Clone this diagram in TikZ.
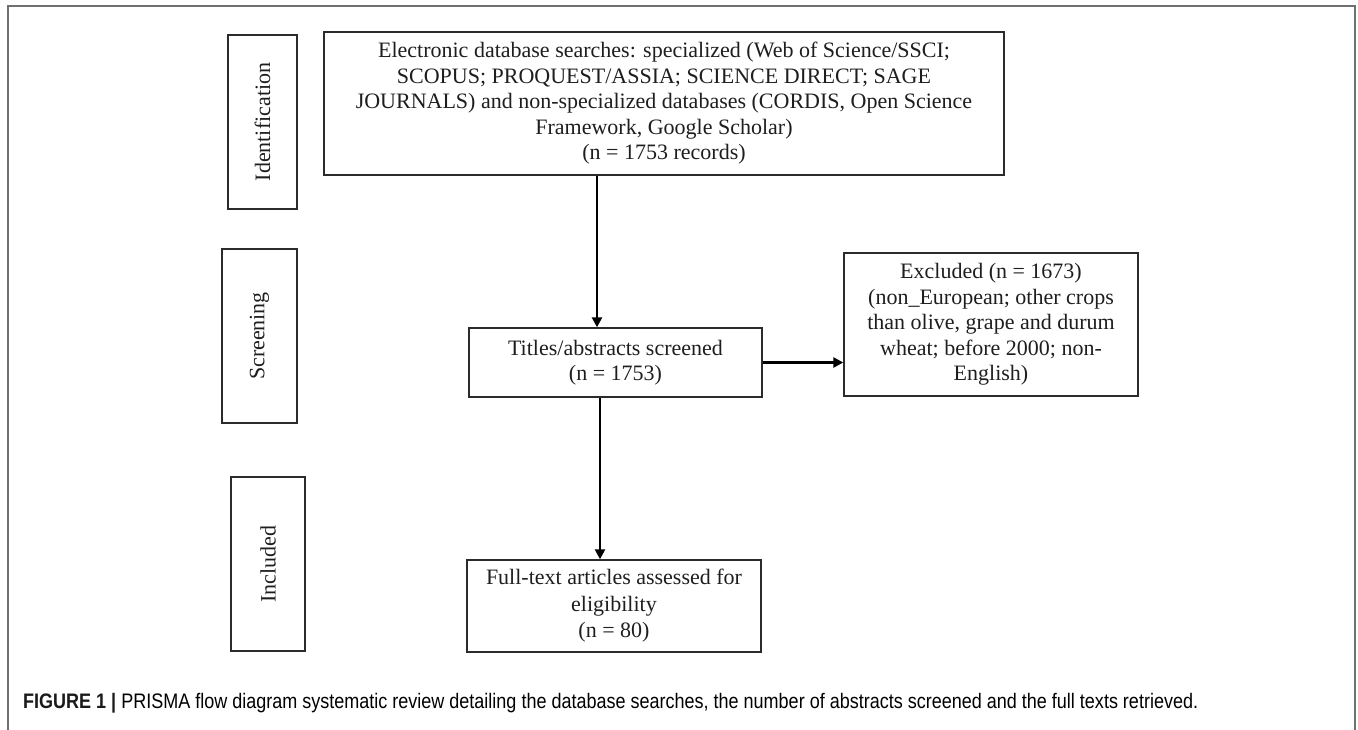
\documentclass[tikz,border=0pt]{standalone}
\usepackage{fontspec}
\usepackage{graphicx}
\setmainfont{Liberation Serif}
\newfontfamily\capfont{Liberation Sans}
\usetikzlibrary{arrows.meta}
\definecolor{boxline}{HTML}{2B2B2B}
\definecolor{frameline}{HTML}{707070}
\definecolor{captext}{HTML}{3C3C3C}
\definecolor{capbold}{HTML}{1A1A1A}
\definecolor{diagtext}{HTML}{1E1E1E}
\newsavebox\capbox
\newdimen\capw
\begin{document}
\sbox\capbox{\capfont\fontsize{21}{25}\selectfont\textcolor{capbold}{\textbf{FIGURE 1 \textbar}} PRISMA flow diagram systematic review detailing the database searches, the number of abstracts screened and the full texts retrieved.}%
\capw=\wd\capbox
\pgfmathsetmacro\capratio{1175/\capw}%
\begin{tikzpicture}[x=1pt,y=-1pt,
  box/.style={draw=boxline, line width=1.4pt, inner sep=0pt, align=center,
    text=diagtext, font=\fontsize{22}{25.5}\selectfont},
  phase/.style={draw=boxline, line width=1.4pt, inner sep=0pt, rotate=90,
    text=diagtext, font=\fontsize{22}{25}\selectfont,
    minimum width=174pt},
  flow/.style={draw=black, line width=2.6pt, -{Triangle[length=10pt,width=10pt]}},
  frame/.style={draw=frameline, line width=1.2pt}
]
\useasboundingbox (0,0) rectangle (1358,729);
\draw[frame] (8,745) -- (8,6) -- (1355,6) -- (1355,745);

% phase labels
\node[phase, minimum height=69pt] (ident) at (262.5,122) {Identification};
\node[phase, minimum height=75pt] (screen) at (259.5,336) {Screening};
\node[phase, minimum height=74pt] (incl) at (268,564) {Included};

% flow boxes
\node[box, minimum width=680pt, minimum height=143pt] (top) at (664,103.5)
  {Electronic database searches: specialized (Web of Science/SSCI;\\
   SCOPUS; PROQUEST/ASSIA; SCIENCE DIRECT; SAGE\\
   JOURNALS) and non-specialized databases (CORDIS, Open Science\\
   Framework, Google Scholar)\\
   (n = 1753 records)};
\node[box, minimum width=293pt, minimum height=69pt] (titles) at (615.5,362.5)
  {Titles/abstracts screened\\(n = 1753)};
\node[box, minimum width=294pt, minimum height=143pt] (excl) at (991,324.5)
  {Excluded (n = 1673)\\(non\_European; other crops\\than olive, grape and durum\\wheat; before 2000; non-\\English)};
\node[box, minimum width=294pt, minimum height=92pt, font=\fontsize{22}{26.5}\selectfont] (full) at (614,606)
  {Full-text articles assessed for\\eligibility\\(n = 80)};

% connectors
\coordinate (c1) at (597,0);
\coordinate (c2) at (600,0);
\draw[flow] (top.south -| c1) -- (titles.north -| c1);
\draw[flow] (titles.south -| c2) -- (full.north -| c2);
\draw[flow] (titles.east) -- (excl.west |- titles.east);

% caption
\node[anchor=base west, inner sep=0pt, text=captext] (cap) at (23,708)
  {\scalebox{\capratio}[1]{\usebox\capbox}};
\end{tikzpicture}
\end{document}
